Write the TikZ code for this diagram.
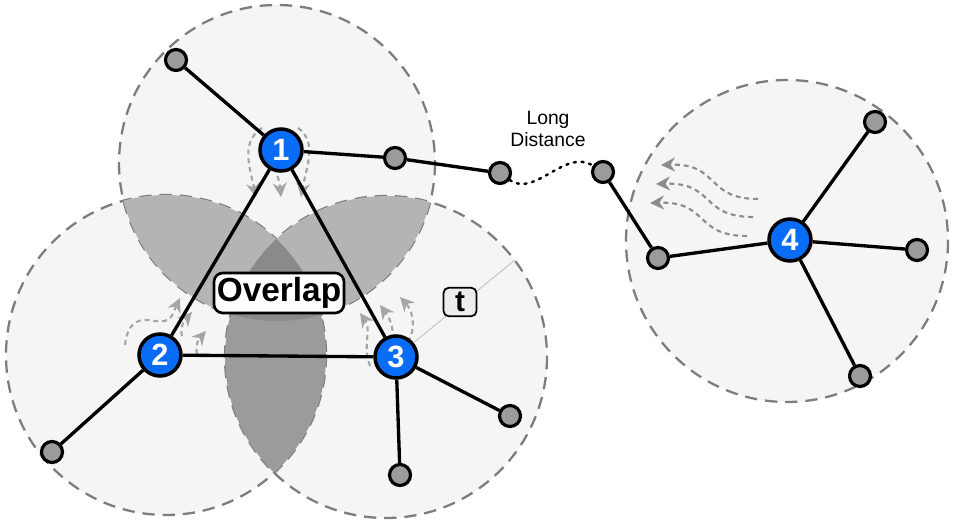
\documentclass[tikz,border=0pt]{standalone}
\usepackage{fontspec}
\setmainfont{Liberation Sans}
\usetikzlibrary{arrows.meta}
\definecolor{hubblue}{RGB}{8,108,246}
\definecolor{zonegray}{RGB}{245,245,245}
\definecolor{rimgray}{RGB}{125,125,125}
\definecolor{pairgray}{RGB}{180,180,180}
\definecolor{lensgray}{RGB}{155,155,155}
\definecolor{coregray}{RGB}{138,138,138}
\definecolor{leafgray}{RGB}{155,155,155}
\definecolor{wavegray}{RGB}{140,140,140}
\definecolor{pulsegray}{RGB}{165,165,165}
\tikzset{
  hub/.style={circle,draw=black,line width=2pt,fill=hubblue,text=white,
    minimum size=0.84cm,inner sep=0pt,font=\fontsize{17.5}{17.5}\selectfont\bfseries},
  leaf/.style={circle,draw=black,line width=1.8pt,fill=leafgray,
    minimum size=0.42cm,inner sep=0pt},
  link/.style={line width=1.9pt},
  zonerim/.style={draw=rimgray,line width=1.3pt,dash pattern=on 7pt off 4.5pt},
  wave/.style={draw=wavegray,line width=1.2pt,dash pattern=on 2.8pt off 2.2pt,
    -{Stealth[length=8pt,width=8pt]}},
  pulse/.style={wave,draw=pulsegray},
}
\begin{document}
\begin{tikzpicture}[x=0.02cm,y=-0.02cm]
\useasboundingbox (0,0) rectangle (953,523);
\coordinate (c1) at (277,163);
\coordinate (c2) at (166,355);
\coordinate (c3) at (386,357);
\coordinate (c4) at (787,241);
% ranges
\fill[zonegray] (c1) circle (158) (c2) circle (160) (c3) circle (161) (c4) circle (161);
\draw[zonerim] (c1) circle (158) (c2) circle (160) (c3) circle (161) (c4) circle (161);
% overlaps
\scope
\clip (c1) circle (158);
\fill[pairgray] (c2) circle (160) (c3) circle (161);
\endscope
\scope
\clip (c2) circle (160);
\fill[lensgray] (c3) circle (161);
\endscope
\scope
\clip (c1) circle (158);
\clip (c2) circle (160);
\fill[coregray] (c3) circle (161);
\endscope
\coordinate (tend) at (515,260);
% signals
\draw[pulse] (262,128) .. controls (240,142) and (250,168) .. (256,197);
\draw[pulse] (276,150) .. controls (272,166) and (279,176) .. (281,197);
\draw[pulse] (298,128) .. controls (318,142) and (306,168) .. (301,197);
\draw[pulse] (125,345) .. controls (128,320) and (140,318) .. (155,321)
             .. controls (172,323) and (172,315) .. (180,298);
\draw[pulse] (182,336) .. controls (180,328) and (183,322) .. (192,312);
\draw[pulse] (197,354) .. controls (195,346) and (198,340) .. (206,331);
\draw[pulse] (370,366) .. controls (362,345) and (372,330) .. (360,313);
\draw[pulse] (390,348) .. controls (396,332) and (391,320) .. (380,305);
\draw[pulse] (408,342) .. controls (417,326) and (412,310) .. (400,297);
\draw[wave] (758,199) .. controls (705,199) and (720,163) .. (661,165);
\draw[wave] (753,217) .. controls (700,217) and (715,182) .. (656,184);
\draw[wave] (747,236) .. controls (694,236) and (709,201) .. (650,203);
% stations
\node[hub] (n1) at (281,150) {1};
\node[hub] (n2) at (160,355) {2};
\node[hub] (n3) at (396,357) {3};
\node[hub] (n4) at (790,240) {4};
\node[leaf] (l1) at (176,60) {};
\node[leaf] (r1) at (395,158) {};
\node[leaf] (r2) at (500,173) {};
\node[leaf] (r3) at (603,172) {};
\node[leaf] (r4) at (658,258) {};
\node[leaf] (l4a) at (875,122) {};
\node[leaf] (l4b) at (917,250) {};
\node[leaf] (l4c) at (860,376) {};
\node[leaf] (l2) at (52,452) {};
\node[leaf] (l3a) at (510,416) {};
\node[leaf] (l3b) at (400,475) {};
% links
\draw[draw=black!25,line width=0.5pt] (n3) -- (tend);
\draw[line width=1.4pt,line cap=round,dash pattern=on 1.2pt off 3.2pt]
  (r2) .. controls (535,198) and (565,148) .. (r3);
\draw[link] (l1) -- (n1) -- (r1) -- (r2);
\draw[link] (r3) -- (r4) -- (n4);
\draw[link] (n4) -- (l4a) (n4) -- (l4b) (n4) -- (l4c);
\draw[link] (n1) -- (n2) -- (n3) -- (n1);
\draw[link] (n2) -- (l2) (n3) -- (l3a) (n3) -- (l3b);
% labels
\node[draw=black,line width=1.5pt,fill=white,rounded corners=5pt,
  minimum width=2.6cm,minimum height=0.8cm,inner sep=1pt,
  font=\fontsize{19}{19}\selectfont\bfseries] (ov) at (279,293) {Overlap};
\node[draw=black,line width=1pt,fill=black!7,rounded corners=3pt,
  minimum width=0.66cm,minimum height=0.57cm,inner sep=0pt,
  font=\fontsize{17}{17}\selectfont\bfseries] (tl) at (460,302) {t};
\node[align=center,font=\fontsize{11}{12.5}\selectfont] (ld) at (548,129) {Long\\Distance};
\end{tikzpicture}
\end{document}
